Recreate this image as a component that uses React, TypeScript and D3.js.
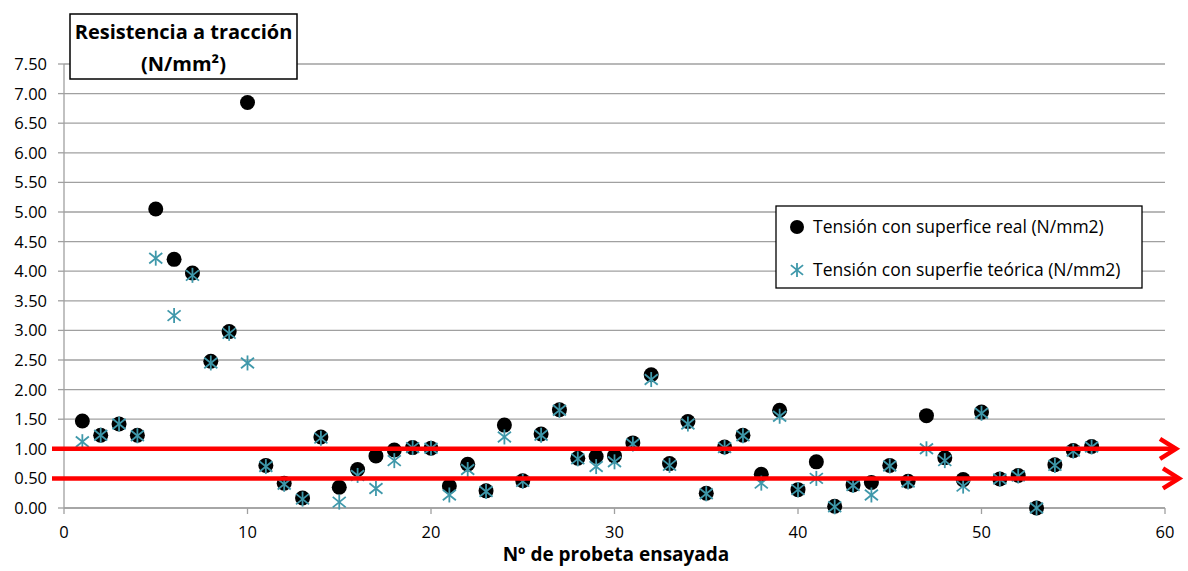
import React from "react";
import * as d3 from "d3";

const probetas = d3.range(1, 57);
const tensionReal = [
  1.47, 1.23, 1.42, 1.23, 5.05, 4.2, 3.97, 2.48, 2.98, 6.85,
  0.72, 0.42, 0.17, 1.2, 0.35, 0.65, 0.88, 0.98, 1.02, 1.01,
  0.37, 0.74, 0.29, 1.4, 0.46, 1.25, 1.66, 0.84, 0.87, 0.88,
  1.1, 2.25, 0.75, 1.46, 0.25, 1.03, 1.23, 0.57, 1.65, 0.31,
  0.78, 0.03, 0.39, 0.43, 0.72, 0.45, 1.56, 0.85, 0.48, 1.62,
  0.49, 0.55, 0.0, 0.73, 0.97, 1.04,
];
const tensionTeorica = [
  1.12, 1.23, 1.42, 1.22, 4.22, 3.25, 3.93, 2.45, 2.95, 2.45,
  0.7, 0.4, 0.15, 1.18, 0.1, 0.55, 0.33, 0.8, 1.02, 1.01,
  0.22, 0.65, 0.28, 1.2, 0.45, 1.23, 1.65, 0.83, 0.7, 0.78,
  1.08, 2.17, 0.72, 1.42, 0.24, 1.02, 1.22, 0.42, 1.55, 0.31,
  0.5, 0.02, 0.38, 0.22, 0.71, 0.44, 1.0, 0.8, 0.37, 1.6,
  0.49, 0.54, 0.0, 0.72, 0.96, 1.03,
];
const yTicks = d3.range(0, 7.51, 0.5);
const xTicks = [0, 10, 20, 30, 40, 50, 60];
const limites = [1.0, 0.5];

const FONT = "'Open Sans', 'Noto Sans', sans-serif";
const STAR = "#3f98aa";

export default function App() {
  const W = 1188, H = 571;
  const x = d3.scaleLinear().domain([0, 60]).range([64, 1165]);
  const y = d3.scaleLinear().domain([0, 7.5]).range([508, 64]);

  const star = (cx: number, cy: number, s: number, key: string | number) => (
    <g key={key} stroke={STAR} strokeWidth={1.8}>
      <line x1={cx} y1={cy - s} x2={cx} y2={cy + s} />
      <line x1={cx - s * 0.87} y1={cy - s * 0.7} x2={cx + s * 0.87} y2={cy + s * 0.7} />
      <line x1={cx - s * 0.87} y1={cy + s * 0.7} x2={cx + s * 0.87} y2={cy - s * 0.7} />
    </g>
  );

  return (
    <svg width={W} height={H} style={{ position: "absolute", left: 0, top: 0 }} fontFamily={FONT}>
      <rect width={W} height={H} fill="#fff" />
      {/* grid */}
      {yTicks.map((t) => (
        <line key={"g" + t} x1={x(0)} x2={x(60)} y1={y(t)} y2={y(t)} stroke="#a0a0a0" strokeWidth={1.3} />
      ))}
      {/* y axis */}
      <line x1={x(0)} x2={x(0)} y1={y(7.5)} y2={y(0)} stroke="#a0a0a0" strokeWidth={1.3} />
      {yTicks.map((t) => (
        <g key={"y" + t}>
          <line x1={x(0) - 6} x2={x(0)} y1={y(t)} y2={y(t)} stroke="#a0a0a0" strokeWidth={1.3} />
          <text x={47} y={y(t) + 6} textAnchor="end" fontSize={16.5} fill="#000">
            {t.toFixed(2)}
          </text>
        </g>
      ))}
      {/* x axis */}
      <line x1={x(0)} x2={x(60)} y1={y(0)} y2={y(0)} stroke="#a0a0a0" strokeWidth={1.3} />
      {xTicks.map((t) => (
        <g key={"x" + t}>
          <line x1={x(t)} x2={x(t)} y1={y(0)} y2={y(0) + 6} stroke="#a0a0a0" strokeWidth={1.3} />
          <text x={x(t)} y={538} textAnchor="middle" fontSize={16.5} fill="#000">
            {t}
          </text>
        </g>
      ))}
      <text x={616} y={561} textAnchor="middle" fontSize={19} fontWeight="bold" fill="#000">
        Nº de probeta ensayada
      </text>
      {/* series */}
      {probetas.map((p, i) => (
        <circle key={"c" + p} cx={x(p)} cy={y(tensionReal[i])} r={7.5} fill="#000" />
      ))}
      {probetas.map((p, i) => star(x(p), y(tensionTeorica[i]), 7.5, "s" + p))}
      {/* red arrows */}
      {limites.map((v, i) => {
        const yy = y(v);
        const xe = i === 0 ? 1176 : 1179;
        return (
          <g key={"r" + v} stroke="#ff0000" fill="none" strokeWidth={4.5}>
            <line x1={52} x2={xe - 2} y1={yy} y2={yy} />
            <polyline points={`${xe - 16},${yy - 10} ${xe},${yy} ${xe - 16},${yy + 10}`} strokeLinejoin="miter" />
          </g>
        );
      })}
      {/* title box */}
      <rect x={70} y={14} width={227} height={65} fill="#fff" stroke="#000" strokeWidth={1.5} />
      <text x={183.5} y={39} textAnchor="middle" fontSize={20} fontWeight="bold" fill="#000">
        Resistencia a tracción
      </text>
      <text x={183.5} y={71} textAnchor="middle" fontSize={20} fontWeight="bold" fill="#000">
        (N/mm²)
      </text>
      {/* legend */}
      <rect x={776} y={206} width={366} height={82} fill="#fff" stroke="#000" strokeWidth={1.3} />
      <circle cx={797} cy={227} r={7} fill="#000" />
      <text x={813} y={233} fontSize={17.5} fill="#000">
        Tensión con superfice real (N/mm2)
      </text>
      {star(797, 270, 7, "leg")}
      <text x={813} y={276} fontSize={17.5} fill="#000">
        Tensión con superfie teórica (N/mm2)
      </text>
    </svg>
  );
}
